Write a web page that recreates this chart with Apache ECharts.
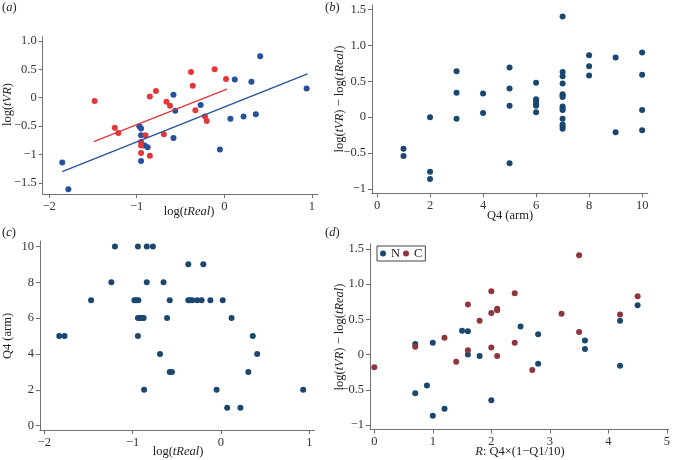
<!DOCTYPE html>
<html>
<head>
<meta charset="utf-8">
<script src="https://cdn.jsdelivr.net/npm/echarts@6/dist/echarts.min.js"></script>
<style>html,body{margin:0;padding:0;background:#fff}#c{width:673px;height:460px}</style>
</head>
<body>
<div id="c"></div>
<script>
// ---------- data ----------
// (a) log(tVR) vs log(tReal)
const aN_logTReal = [-1.85,-1.78,-0.97,-0.95,-0.95,-0.91,-0.875,-0.95,-0.58,-0.58,-0.56,-0.27,-0.05,0.07,0.12,0.22,0.31,0.36,0.41,0.94];
const aN_logTVR   = [-1.14,-1.61,-0.50,-0.54,-0.66,-0.84,-0.87,-1.11,0.05,-0.71,-0.23,-0.13,-0.91,-0.37,0.32,-0.33,0.28,-0.29,0.73,0.16];
const aC_logTReal = [-1.48,-1.25,-1.21,-0.90,-0.95,-0.95,-0.95,-0.85,-0.85,-0.78,-0.69,-0.66,-0.62,-0.38,-0.36,-0.11,0.02,-0.33,-0.22,-0.20];
const aC_logTVR   = [-0.06,-0.53,-0.62,-0.66,-0.78,-0.84,-0.97,-1.02,0.02,0.12,-0.64,-0.07,-0.14,0.45,0.21,0.50,0.33,-0.22,-0.33,-0.41];
const aFitN_x = [-1.85, 0.95];
const aFitN_y = [-1.30, 0.42];
const aFitC_x = [-1.49, 0.03];
const aFitC_y = [-0.77, 0.15];
// (b) log(tVR)-log(tReal) vs Q4
const bQ4   = [1,1,2,2,2,3,3,3,4,4,5,5,5,5,6,6,6,6,6,6,7,7,7,7,7,7,7,7,7,7,7,7,7,7,8,8,8,9,9,10,10,10,10];
const bDiff = [-0.44,-0.54,0,-0.76,-0.86,0.64,0.34,-0.02,0.33,0.06,0.69,0.40,0.16,-0.64,0.48,0.25,0.22,0.18,0.16,0.07,1.40,0.63,0.57,0.47,0.32,0.30,0.28,0.15,0.12,0.10,-0.02,-0.10,-0.13,-0.16,0.86,0.71,0.58,0.83,-0.21,0.90,0.59,0.10,-0.18];
// (c) Q4 vs log(tReal)
const cLogTReal = [-1.20,-0.94,-0.84,-0.77,-0.37,-0.20,-1.24,-0.84,-0.65,-1.47,-0.98,-0.96,-0.935,-0.58,-0.37,-0.35,-0.325,-0.27,-0.22,-0.12,0.02,-0.94,-0.92,-0.895,-0.875,-0.61,0.12,-1.83,-1.77,-0.94,0.36,-0.69,0.41,-0.58,-0.555,0.31,-0.87,-0.05,0.93,0.07,0.22];
const cQ4       = [10,10,10,10,9,9,8,8,8,7,7,7,7,7,7,7,7,7,7,7,7,6,6,6,6,6,6,5,5,5,5,4,4,3,3,3,2,2,2,1,1];
// (d) log(tVR)-log(tReal) vs R
const dN_R    = [0.7,0.7,0.9,1.0,1.0,1.2,1.5,1.6,1.6,1.8,2.0,2.5,2.8,2.8,3.6,3.6,4.2,4.2,4.5];
const dN_diff = [0.15,-0.55,-0.44,0.17,-0.87,-0.77,0.34,0.33,0.0,-0.02,-0.65,0.40,0.29,-0.13,0.20,0.08,0.48,-0.16,0.70];
const dC_R    = [0,0.7,1.2,1.4,1.6,1.6,1.8,2.0,2.0,2.0,2.1,2.1,2.1,2.4,2.4,2.7,3.2,3.5,3.5,4.2,4.5];
const dC_diff = [-0.18,0.11,0.24,-0.10,0.71,0.06,0.48,0.90,0.59,0.10,0.65,0.63,-0.02,0.87,0.17,-0.22,0.58,1.41,0.32,0.57,0.83];
// tick values and labels
const ticksLogX  = [-2,-1,0,1];          const labelsLogX  = ['\u22122','\u22121','0','1'];
const ticksAY    = [-1.5,-1,-0.5,0,0.5,1]; const labelsAY  = ['\u22121.5','\u22121','\u22120.5','0','0.5','1.0'];
const ticksDiffY = [-1,-0.5,0,0.5,1,1.5];  const labelsDiffY = ['\u22121','\u22120.5','0','0.5','1.0','1.5'];
const ticksQ4X   = [0,2,4,6,8,10];       const labelsQ4X  = ['0','2','4','6','8','10'];
const ticksQ4Y   = [0,2,4,6,8,10];       const labelsQ4Y  = ['0','2','4','6','8','10'];
const ticksRX    = [0,1,2,3,4,5];        const labelsRX   = ['0','1','2','3','4','5'];

// ---------- chart ----------
const FONT = "'Liberation Serif','DejaVu Serif',serif";
const AX = '#707070';
const zip = (xs, ys) => xs.map((x, i) => [x, ys[i]]);
function axis(gridIndex, min, max, ticks, labels) {
  return {
    type: 'value', gridIndex, min, max, scale: true,
    splitLine: { show: false },
    axisLine: { show: true, onZero: false, lineStyle: { color: AX, width: 1 } },
    axisTick: { show: true, length: 4, customValues: ticks, lineStyle: { color: AX } },
    axisLabel: {
      customValues: ticks, margin: 6, fontFamily: FONT, fontSize: 12.5, color: '#333',
      formatter: v => { const i = ticks.findIndex(t => Math.abs(t - v) < 1e-9); return i >= 0 ? labels[i] : ''; }
    }
  };
}
const NAVY = '#1a476f', MAROON = '#90353b', BLUE = '#24509d', RED = '#e2383b';
function sc(name, idx, data, color) {
  return { type: 'scatter', name, xAxisIndex: idx, yAxisIndex: idx, data, symbolSize: 6,
    itemStyle: { color, opacity: 1 }, silent: true };
}
function ln(idx, data, color) {
  return { type: 'line', name: 'fit' + color, xAxisIndex: idx, yAxisIndex: idx, data, symbol: 'none',
    lineStyle: { color, width: 1.3 }, silent: true };
}
function txt(x, y, text, rot, align) {
  return { type: 'text', x, y, rotation: rot || 0,
    style: { text, fontFamily: FONT, fontSize: 12.5, fill: '#222', align: align || 'center', verticalAlign: 'middle',
      rich: { i: { fontFamily: FONT, fontSize: 12.5, fontStyle: 'italic', fill: '#222' } } } };
}
const chart = echarts.init(document.getElementById('c'), null, { renderer: 'canvas' });
chart.setOption({
  animation: false,
  backgroundColor: '#fff',
  grid: [
    { left: 42.7, top: 36.7, width: 275.3, height: 157.3 },
    { left: 372, top: 5, width: 275.7, height: 188.3 },
    { left: 40, top: 241, width: 274.3, height: 189 },
    { left: 370, top: 244, width: 299, height: 185.5 }
  ],
  xAxis: [
    axis(0, -2.073, 1.07, ticksLogX, labelsLogX),
    axis(1, -0.189, 10.21, ticksQ4X, labelsQ4X),
    axis(2, -2.048, 1.056, ticksLogX, labelsLogX),
    axis(3, -0.073, 5.03, ticksRX, labelsRX)
  ],
  yAxis: [
    axis(0, -1.692, 1.072, ticksAY, labelsAY),
    axis(1, -1.058, 1.56, ticksDiffY, labelsDiffY),
    axis(2, -0.24, 10.3, ticksQ4Y, labelsQ4Y),
    axis(3, -1.064, 1.571, ticksDiffY, labelsDiffY)
  ],
  legend: {
    data: [{ name: 'N', icon: 'circle' }, { name: 'C', icon: 'circle' }],
    left: 377, top: 246, orient: 'horizontal', itemWidth: 6, itemHeight: 6, itemGap: 3,
    padding: [1, 3, 1, 3], borderColor: '#444', borderWidth: 1, borderRadius: 0,
    textStyle: { fontFamily: FONT, fontSize: 12.5, color: '#222' }, selectedMode: false
  },
  series: [
    ln(0, zip(aFitN_x, aFitN_y), BLUE),
    ln(0, zip(aFitC_x, aFitC_y), RED),
    sc('aN', 0, zip(aN_logTReal, aN_logTVR), BLUE),
    sc('aC', 0, zip(aC_logTReal, aC_logTVR), RED),
    sc('b', 1, zip(bQ4, bDiff), NAVY),
    sc('c', 2, zip(cLogTReal, cQ4), NAVY),
    sc('N', 3, zip(dN_R, dN_diff), NAVY),
    sc('C', 3, zip(dC_R, dC_diff), MAROON)
  ],
  graphic: [
    txt(2, 8, '({i|a})', 0, 'left'),
    txt(325, 8, '({i|b})', 0, 'left'),
    txt(2, 233, '({i|c})', 0, 'left'),
    txt(325, 233, '({i|d})', 0, 'left'),
    txt(7.5, 104.5, 'log({i|tVR})', Math.PI / 2),
    txt(340, 99, 'log({i|tVR}) \u2212 log({i|tReal})', Math.PI / 2),
    txt(7.5, 336, 'Q4 (arm)', Math.PI / 2),
    txt(340, 337, 'log({i|tVR}) \u2212 log({i|tReal})', Math.PI / 2),
    txt(189, 212, 'log({i|tReal})'),
    txt(510, 216, 'Q4 (arm)'),
    txt(178, 452, 'log({i|tReal})'),
    txt(520, 452, '{i|R}: Q4\u00d7(1\u2212Q1/10)')
  ]
});
</script>
</body>
</html>
